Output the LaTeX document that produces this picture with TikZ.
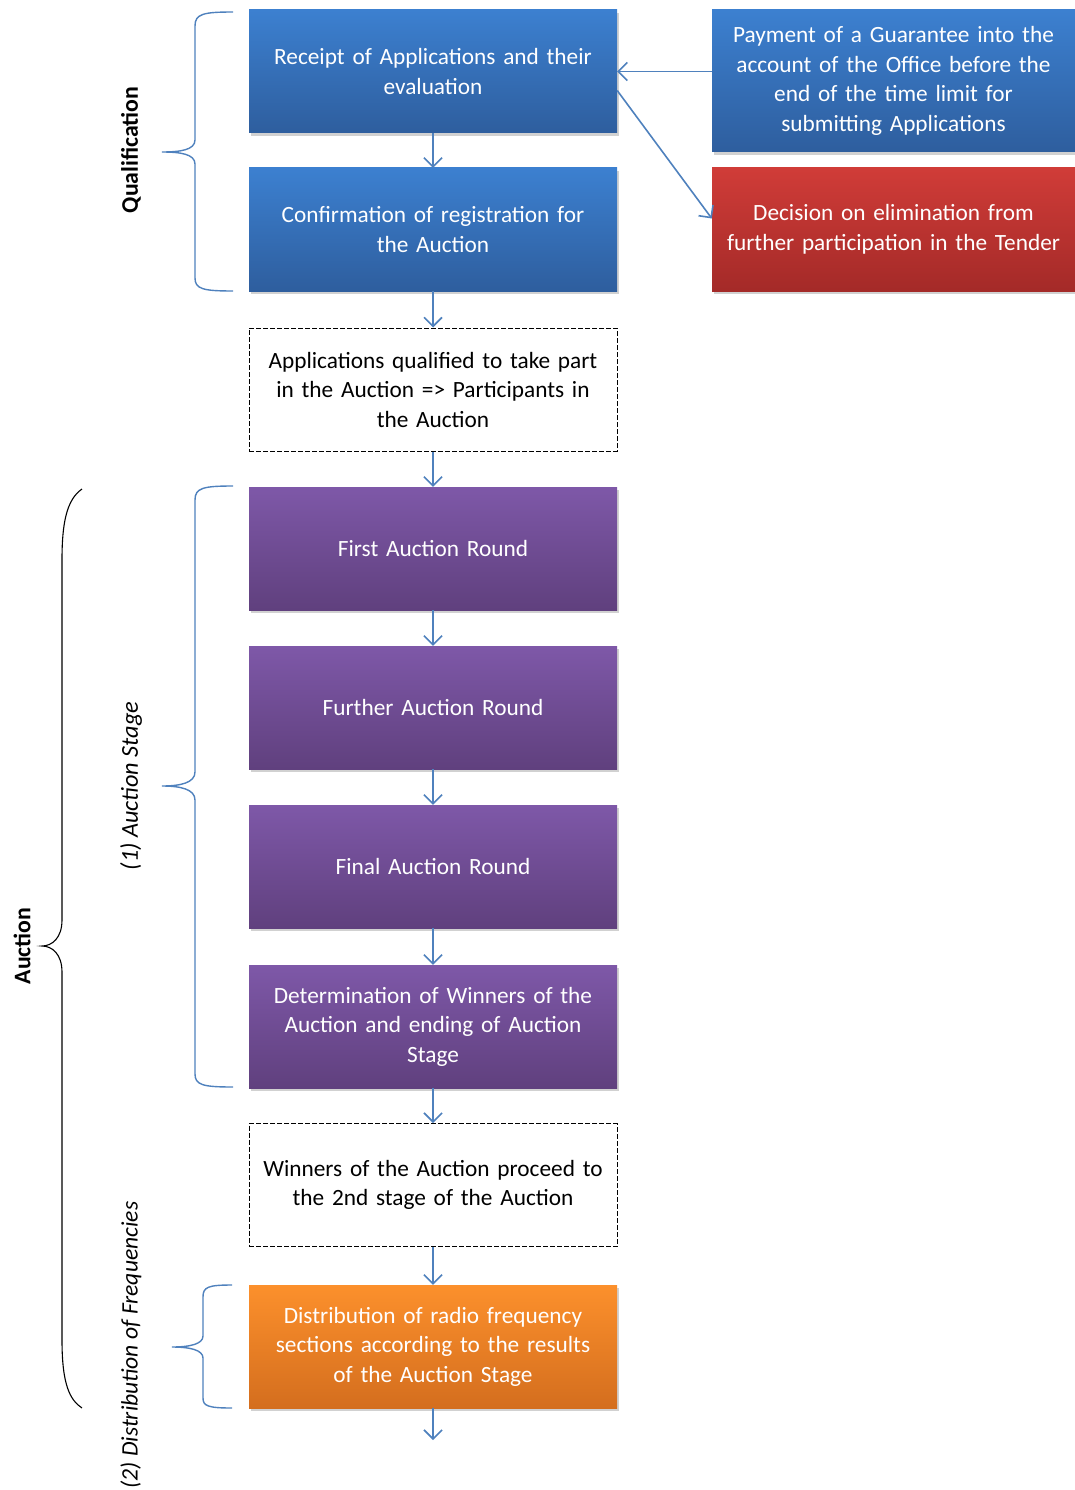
\documentclass[tikz,border=0pt]{standalone}
\usepackage{fontspec}
\setmainfont{Carlito}
\usetikzlibrary{arrows.meta,shadows}
\definecolor{bTop}{RGB}{60,128,208}
\definecolor{bBot}{RGB}{46,94,158}
\definecolor{pTop}{RGB}{126,88,168}
\definecolor{pBot}{RGB}{96,64,126}
\definecolor{rTop}{RGB}{208,60,56}
\definecolor{rBot}{RGB}{164,42,40}
\definecolor{oTop}{RGB}{252,144,44}
\definecolor{oBot}{RGB}{212,110,30}
\definecolor{arrowc}{RGB}{79,129,189}
\tikzset{
  box/.style={minimum width=368pt, minimum height=123pt, inner sep=0pt, text width=360pt,
    align=center, text=white, font=\fontsize{23.3}{29.5}\selectfont,
    drop shadow={shadow xshift=1.5pt, shadow yshift=-3pt, opacity=0.3, fill=black!60}},
  bluebox/.style={box, top color=bTop, bottom color=bBot},
  purplebox/.style={box, top color=pTop, bottom color=pBot},
  redbox/.style={box, top color=rTop, bottom color=rBot},
  orangebox/.style={box, top color=oTop, bottom color=oBot},
  dbox/.style={minimum width=368pt, minimum height=123pt, inner sep=0pt, text width=360pt,
    align=center, text=black, font=\fontsize{23.3}{29.5}\selectfont, draw=black, line width=1pt,
    dash pattern=on 5pt off 2pt, fill=white},
  arr/.style={draw=arrowc, line width=1.6pt, -{Straight Barb[length=9pt,width=18pt]}},
  bracec/.style={draw=arrowc, line width=1.4pt},
  lab/.style={rotate=90},
}
\begin{document}
\begin{tikzpicture}[x=1pt,y=-1pt]
\useasboundingbox (0,0) rectangle (1075,1490);
% main column
\node[bluebox] (b1) at (433,71.5) {Receipt of Applications and their\\evaluation};
\node[bluebox] (b2) at (433,229.5) {Confirmation of registration for\\the Auction};
\node[dbox] (d1) at (433,389.5) {Applications qualified to take part\\in the Auction => Participants in\\the Auction};
\node[purplebox] (p1) at (433,548.5) {First Auction Round};
\node[purplebox] (p2) at (433,707.5) {Further Auction Round};
\node[purplebox] (p3) at (433,866.5) {Final Auction Round};
\node[purplebox] (p4) at (433,1026.5) {Determination of Winners of the\\Auction and ending of Auction\\Stage};
\node[dbox] (d2) at (433,1185) {Winners of the Auction proceed to\\the 2nd stage of the Auction};
\node[orangebox] (o1) at (433,1346.5) {Distribution of radio frequency\\sections according to the results\\of the Auction Stage};
\coordinate (endp) at (433,1440);
% right column
\node[bluebox, minimum width=363pt, minimum height=142pt, text width=350pt] (pay) at (893.5,81) {Payment of a Guarantee into the\\account of the Office before the\\end of the time limit for\\submitting Applications};
\node[redbox, minimum width=363pt, text width=350pt] (dec) at (893.5,229.5) {Decision on elimination from\\further participation in the Tender};
% connectors
\draw[arr] (b1) -- (b2);
\draw[arr] (b2) -- (d1);
\draw[arr] (d1) -- (p1);
\draw[arr] (p1) -- (p2);
\draw[arr] (p2) -- (p3);
\draw[arr] (p3) -- (p4);
\draw[arr] (p4) -- (d2);
\draw[arr] (d2) -- (o1);
\draw[arr] (o1) -- (endp);
\draw[arr] (pay.west |- b1.east) -- (b1.east);
\draw[arr] ([yshift=-19pt]b1.east) -- ([yshift=11pt]dec.west);
% braces
\draw[bracec] (233,12) .. controls (203,12) and (195,14) .. (195,26) -- (195,140)
  .. controls (195,150) and (180,152) .. (162,152) .. controls (180,152) and (195,154) .. (195,164)
  -- (195,278) .. controls (195,289) and (203,291) .. (233,291);
\draw[bracec] (233,486) .. controls (203,486) and (195,488) .. (195,500) -- (195,772)
  .. controls (195,783) and (180,786) .. (162,786) .. controls (180,786) and (195,789) .. (195,800)
  -- (195,1074) .. controls (195,1085) and (203,1087) .. (233,1087);
\draw[bracec] (232,1285) .. controls (208,1285) and (203,1287) .. (203,1297) -- (203,1336)
  .. controls (203,1344) and (190,1347) .. (172,1347) .. controls (190,1347) and (203,1350) .. (203,1358)
  -- (203,1398) .. controls (203,1406) and (208,1408) .. (232,1408);
\draw[black, line width=1.1pt] (82,489) .. controls (66,500) and (62,525) .. (62,560) -- (62,920)
  .. controls (62,938) and (52,946) .. (42,946) .. controls (52,946) and (62,954) .. (62,972)
  -- (62,1340) .. controls (62,1385) and (70,1400) .. (82,1408);
% labels
\node[lab, font=\fontsize{23.8}{28}\selectfont\bfseries] (lq) at (131,150) {Qualification};
\node[lab, font=\fontsize{24.3}{28}\selectfont\itshape] (ls1) at (131,786) {(1) Auction Stage};
\node[lab, font=\fontsize{23.6}{28}\selectfont\itshape] (ls2) at (131,1345) {(2) Distribution of Frequencies};
\node[lab, font=\fontsize{23.8}{28}\selectfont\bfseries] (la) at (22,946) {Auction};
\end{tikzpicture}
\end{document}
